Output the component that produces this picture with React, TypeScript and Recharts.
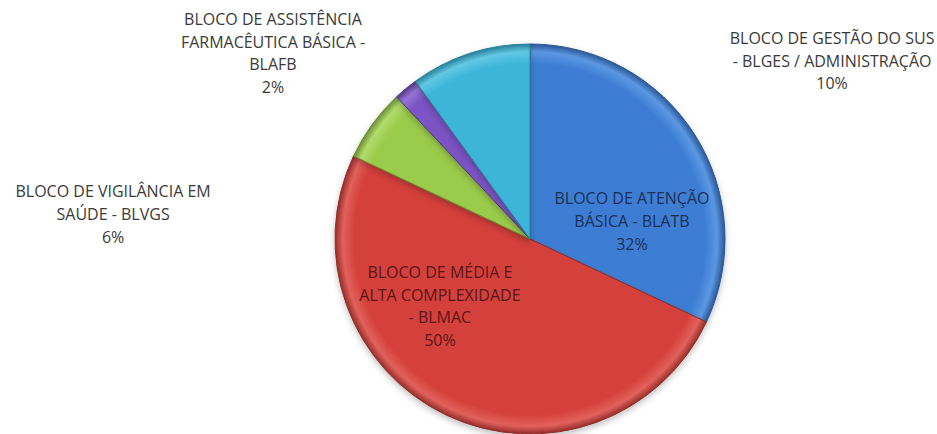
import { PieChart, Pie, Cell } from "recharts";

// Funding blocks (share of total, %)
const categories = [
  "BLOCO DE ATENÇÃO BÁSICA - BLATB",
  "BLOCO DE MÉDIA E ALTA COMPLEXIDADE - BLMAC",
  "BLOCO DE VIGILÂNCIA EM SAÚDE - BLVGS",
  "BLOCO DE ASSISTÊNCIA FARMACÊUTICA BÁSICA - BLAFB",
  "BLOCO DE GESTÃO DO SUS - BLGES / ADMINISTRAÇÃO",
];
const values = [32, 50, 6, 2, 10];

// how each category name wraps in the label
const labelLines = [
  ["BLOCO DE ATENÇÃO", "BÁSICA - BLATB"],
  ["BLOCO DE MÉDIA E", "ALTA COMPLEXIDADE", "- BLMAC"],
  ["BLOCO DE VIGILÂNCIA EM", "SAÚDE - BLVGS"],
  ["BLOCO DE ASSISTÊNCIA", "FARMACÊUTICA BÁSICA -", "BLAFB"],
  ["BLOCO DE GESTÃO DO SUS", "- BLGES / ADMINISTRAÇÃO"],
];

const COLORS = ["#3d7ed4", "#d4403b", "#9bcb4b", "#7b53c4", "#3cb5d8"];
const RIMS = ["#5b97e2", "#e2615c", "#b2db6c", "#9474d6", "#62c8e4"];
const STROKES = ["#2a5796", "#952d29", "#6a8f33", "#523885", "#28819b"];
const TEXT_COLORS = ["#1c2f55", "#5a1616", "#3a3a3a", "#3a3a3a", "#3a3a3a"];

// label block centre, relative to pie centre in units of the radius
const LABEL_OFFSETS: [number, number][] = [
  [0.523, -0.092],
  [-0.462, 0.344],
  [-2.138, -0.128],
  [-1.318, -0.954],
  [1.549, -0.915],
];

const LINE_HEIGHT = 22.6;
const CX = 530;
const CY = 239;
const RADIUS = 195;

const data = categories.map((name, i) => ({ name, value: values[i] }));

const renderLabel = (props: any) => {
  const { cx, cy, outerRadius, index, percent } = props;
  const [ox, oy] = LABEL_OFFSETS[index];
  const x = cx + ox * outerRadius;
  const y = cy + oy * outerRadius;
  const lines = [...labelLines[index], `${Math.round(percent * 100)}%`];
  return (
    <g>
      {lines.map((line, i) => (
        <text
          key={i}
          x={x}
          y={y + (i - (lines.length - 1) / 2) * LINE_HEIGHT}
          textAnchor="middle"
          dominantBaseline="central"
          fill={TEXT_COLORS[index]}
          fontSize={16}
          fontFamily="'Open Sans', sans-serif"
        >
          {line}
        </text>
      ))}
    </g>
  );
};

export default function App() {
  return (
    <div style={{ position: "absolute", left: 0, top: 0, background: "#fff" }}>
      <PieChart width={937} height={434} margin={{ top: 0, right: 0, bottom: 0, left: 0 }}>
        <defs>
          {/* soft bevel toward the rim, like the office 3D style */}
          {COLORS.map((c, i) => (
            <radialGradient
              key={i}
              id={`slice-${i}`}
              gradientUnits="userSpaceOnUse"
              cx={CX}
              cy={CY}
              r={RADIUS}
            >
              <stop offset="0%" stopColor={c} />
              <stop offset="90%" stopColor={c} />
              <stop offset="96%" stopColor={RIMS[i]} />
              <stop offset="100%" stopColor={STROKES[i]} />
            </radialGradient>
          ))}
          <filter id="shadow" x="-10%" y="-10%" width="120%" height="125%">
            <feDropShadow dx="0" dy="3" stdDeviation="3" floodColor="#000" floodOpacity="0.25" />
          </filter>
        </defs>
        <Pie
          data={data}
          dataKey="value"
          nameKey="name"
          cx={CX}
          cy={CY}
          outerRadius={RADIUS}
          startAngle={90}
          endAngle={-270}
          label={renderLabel}
          labelLine={false}
          isAnimationActive={false}
          style={{ filter: "url(#shadow)" }}
        >
          {data.map((entry, index) => (
            <Cell
              key={`cell-${index}`}
              fill={`url(#slice-${index})`}
              stroke={STROKES[index]}
              strokeWidth={1}
            />
          ))}
        </Pie>
      </PieChart>
    </div>
  );
}
